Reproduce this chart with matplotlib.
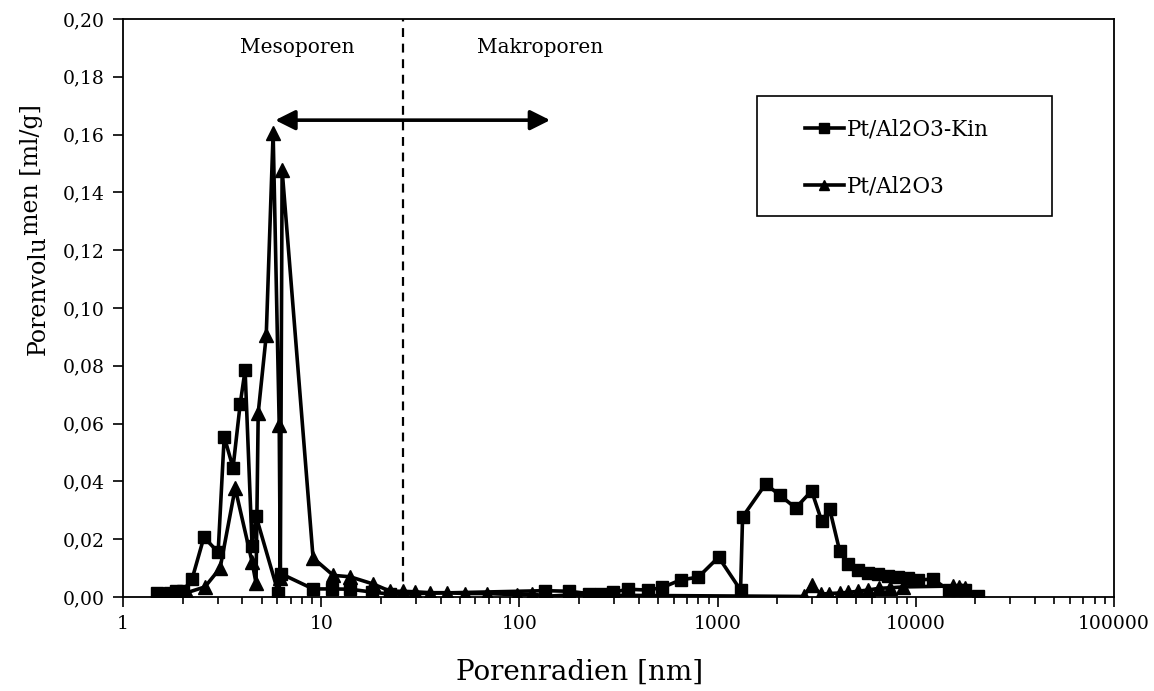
import numpy as np
import matplotlib
matplotlib.use("Agg")
import matplotlib.pyplot as plt
from matplotlib.patches import Rectangle
from matplotlib.ticker import FixedLocator, LogLocator, NullFormatter

# --- DATA ---
kin_r = [1.49, 1.59, 1.73, 1.85, 2.0, 2.23, 2.56, 3.02, 3.24, 3.59, 3.90, 4.13,
         4.48, 4.69, 6.07, 6.30, 9.1, 11.4, 14.0, 18.1, 22.3, 135, 177, 224,
         257, 298, 355, 443, 527, 650, 800, 1012, 1306, 1337, 1747, 2057,
         2477, 2983, 3352, 3679, 4133, 4527, 5095, 5727, 6431, 7220, 8110,
         9110, 10240, 12190, 14690, 16100, 17700, 20560]
kin_v = [0.0013, 0.0012, 0.0015, 0.0020, 0.0020, 0.0062, 0.0207, 0.0155, 0.0555,
         0.0447, 0.0667, 0.0785, 0.0175, 0.0280, 0.0015, 0.0080, 0.0028, 0.0028,
         0.0027, 0.0017, 0.0010, 0.0022, 0.0020, 0.0012, 0.0012, 0.0017, 0.0027,
         0.0024, 0.0033, 0.0059, 0.0069, 0.0138, 0.0024, 0.0277, 0.0391, 0.0353,
         0.0308, 0.0367, 0.0263, 0.0304, 0.0159, 0.0114, 0.0093, 0.0083, 0.0081,
         0.0073, 0.0069, 0.0066, 0.0059, 0.0062, 0.0024, 0.0024, 0.0024, 0.0003]

pt_r = [1.55, 1.7, 1.85, 2.1, 2.59, 3.09, 3.68, 4.48, 4.69, 4.81, 5.28, 5.72,
        6.14, 6.22, 6.35, 9.1, 11.5, 14.0, 18.3, 22.3, 25.9, 29.8, 35.5, 43.2,
        53.3, 68.7, 97.8, 116, 139, 177, 2718, 2983, 3313, 3640, 4133, 4570,
        5095, 5727, 6500, 7450, 8640, 15500, 16600, 17800]
pt_v = [0.0008, 0.0008, 0.0010, 0.0015, 0.0035, 0.0100, 0.0377, 0.0121, 0.0048,
        0.0637, 0.0905, 0.1606, 0.0595, 0.0065, 0.1478, 0.0135, 0.0075, 0.0070,
        0.0045, 0.0020, 0.0020, 0.0018, 0.0015, 0.0015, 0.0012, 0.0012, 0.0008,
        0.0010, 0.0003, 0.0007, 0.0002, 0.0042, 0.0010, 0.0012, 0.0014, 0.0016,
        0.0020, 0.0024, 0.0030, 0.0032, 0.0035, 0.0038, 0.0036, 0.0030]

y_ticks = [0.00, 0.02, 0.04, 0.06, 0.08, 0.10, 0.12, 0.14, 0.16, 0.18, 0.20]
x_ticks = [1, 10, 100, 1000, 10000, 100000]
x_ticklabels = ["1", "10", "100", "1000", "10000", "100000"]

meso_limit = 25.9          # dashed separator
arrow_span = (5.86, 143)   # double arrow ends
arrow_y = 0.165

plt.rcParams['font.family'] = ['DejaVu Serif']

W, H = 1154, 691
fig = plt.figure(figsize=(W / 100, H / 100), dpi=100)
ax = fig.add_axes([0.1066, 0.136, 0.8587, 0.8365])

ax.plot(kin_r, kin_v, color='black', lw=2.6, marker='s', ms=9,
        label='Pt/Al2O3-Kin')
ax.plot(pt_r, pt_v, color='black', lw=2.6, marker='^', ms=9.5,
        label='Pt/Al2O3')

ax.set_xscale('log')
ax.set_xlim(1, 100000)
ax.set_ylim(0, 0.20)

# separator + arrow + region labels
ax.axvline(meso_limit, color='black', lw=1.6, ls=(0, (4, 3)))
ax.annotate('', xy=(arrow_span[0], arrow_y), xytext=(arrow_span[1], arrow_y),
            arrowprops=dict(arrowstyle='<|-|>', color='black', lw=2.6,
                            mutation_scale=30, shrinkA=0, shrinkB=0))
ax.text(7.57, 0.19, 'Mesoporen', ha='center', va='center', fontsize=14.5)
ax.text(127.7, 0.19, 'Makroporen', ha='center', va='center', fontsize=14.5)

# ticks
ax.yaxis.set_major_locator(FixedLocator(y_ticks))
ax.set_yticklabels([f"{v:.2f}".replace('.', ',') for v in y_ticks])
ax.xaxis.set_major_locator(FixedLocator(x_ticks))
ax.set_xticklabels(x_ticklabels)
ax.xaxis.set_minor_locator(LogLocator(base=10, subs=np.arange(2, 10)))
ax.xaxis.set_minor_formatter(NullFormatter())
ax.tick_params(axis='both', which='major', direction='out', length=7,
               width=1.2, labelsize=13.5, pad=6, top=False, right=False)
ax.tick_params(axis='x', which='minor', direction='out', length=5, width=1.2)
for sp in ax.spines.values():
    sp.set_linewidth(1.3)

# x label sits left of the axes centre in the original
fig.text(580 / W, 1 - 672 / H, 'Porenradien [nm]', fontsize=20,
         ha='center', va='center')

# y label: the second half sits a little raised, as in the original
t1 = fig.text(0.033, 1 - 355 / H, 'Porenvolu', rotation=90, fontsize=17,
              ha='center', va='bottom')
fig.canvas.draw()
bb = t1.get_window_extent()
fig.text(0.027, bb.y1 / fig.bbox.height, 'men [ml/g]', rotation=90,
         fontsize=17, ha='center', va='bottom')

# legend: frameless entries inside a plain drawn box
fig.patches.append(Rectangle((757 / W, 1 - 216 / H), (1052 - 757) / W,
                             (216 - 96) / H, transform=fig.transFigure,
                             fill=False, edgecolor='black', lw=1.2,
                             zorder=5))
leg = ax.legend(loc='upper left', bbox_to_anchor=(805 / W, 1 - 119 / H),
                bbox_transform=fig.transFigure, fontsize=15.5,
                frameon=False, handlelength=1.8, handletextpad=0.15,
                labelspacing=1.6, borderpad=0, borderaxespad=0,
                markerscale=0.8)

fig.savefig('out.png', dpi=100)
